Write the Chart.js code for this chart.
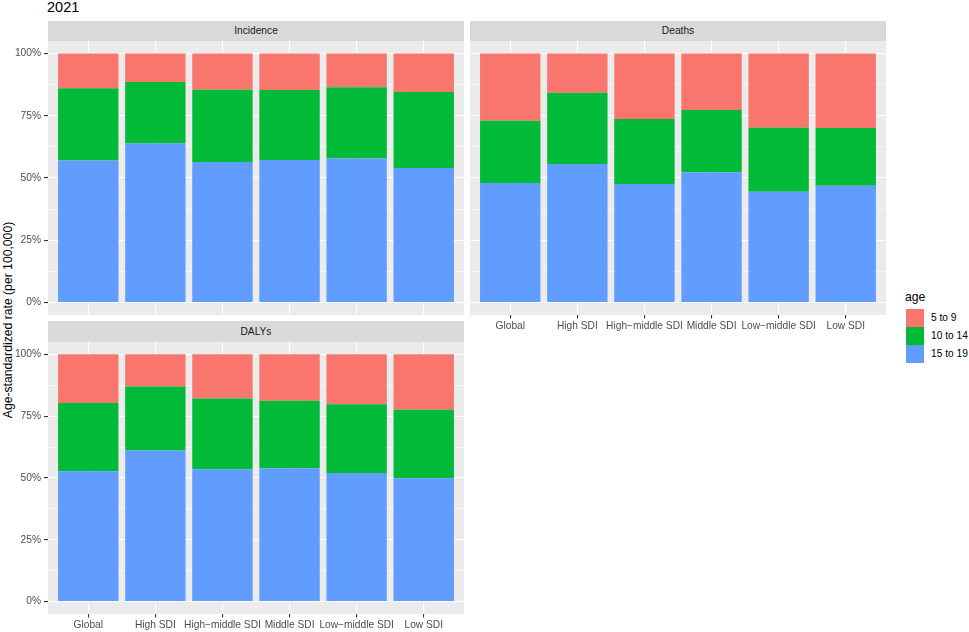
<!DOCTYPE html>
<html><head><meta charset="utf-8">
<script src="https://cdn.jsdelivr.net/npm/chart.js@4.4.1/dist/chart.umd.min.js"></script>
<style>
html,body{margin:0;padding:0;background:#fff;}
#wrap{position:relative;width:969px;height:632px;overflow:hidden;font-family:"Liberation Sans",Arial,sans-serif;background:#fff;}
.abs{position:absolute;white-space:nowrap;}
.strip{position:absolute;background:#D9D9D9;color:#1A1A1A;font-size:10.2px;text-align:center;}
canvas{position:absolute;}
.key{position:absolute;left:906px;width:18px;height:18px;}
.klab{position:absolute;left:931px;font-size:10.2px;line-height:12px;color:#000;}
</style></head><body>
<div id="wrap">
  <div class="abs" style="left:47px;top:0px;font-size:14.5px;line-height:15px;color:#000">2021</div>
  <div class="abs" style="left:7.5px;top:320px;font-size:12.2px;line-height:13px;color:#000;transform:translate(-50%,-50%) rotate(-90deg);">Age-standardized rate (per 100,000)</div>

  <div class="strip" id="s1" style="left:48px;top:21px;width:416px;height:20px;line-height:20px;"></div>
  <div class="strip" id="s2" style="left:470px;top:21px;width:416px;height:20px;line-height:20px;"></div>
  <div class="strip" id="s3" style="left:48px;top:321px;width:416px;height:21px;line-height:21px;"></div>

  <canvas id="c1" width="464" height="274" style="left:0px;top:41px;width:464px;height:274px;"></canvas>
  <canvas id="c2" width="416" height="292" style="left:470px;top:41px;width:416px;height:292px;"></canvas>
  <canvas id="c3" width="464" height="290" style="left:0px;top:342px;width:464px;height:290px;"></canvas>

  <div class="abs" style="left:905px;top:290px;font-size:12.2px;line-height:14px;color:#000">age</div>
  <div id="legend"></div>
</div>
<script>
// ---- data (share of age-standardized rate, %) ----
const categories = ["Global", "High SDI", "High\u2212middle SDI", "Middle SDI", "Low\u2212middle SDI", "Low SDI"];
const measures = ["Incidence", "Deaths", "DALYs"];
const ageGroups = ["5 to 9", "10 to 14", "15 to 19"];
const yTickValues = [0, 25, 50, 75, 100];

const incidence_15_19 = [57.0, 63.9, 56.4, 57.2, 57.8, 54.0];
const incidence_10_14 = [29.0, 24.6, 29.0, 28.1, 28.6, 30.5];
const incidence_5_9   = [14.0, 11.5, 14.6, 14.7, 13.6, 15.5];

const deaths_15_19 = [48.0, 55.6, 47.6, 52.3, 44.5, 46.9];
const deaths_10_14 = [25.0, 28.6, 26.1, 25.0, 25.7, 23.2];
const deaths_5_9   = [27.0, 15.8, 26.3, 22.7, 29.8, 29.9];

const dalys_15_19 = [52.7, 61.1, 53.5, 53.9, 52.0, 49.9];
const dalys_10_14 = [27.6, 25.9, 28.7, 27.3, 27.8, 27.7];
const dalys_5_9   = [19.7, 13.0, 17.8, 18.8, 20.2, 22.4];

// ---- styling ----
const colors = {"5 to 9": "#F8766D", "10 to 14": "#00BA38", "15 to 19": "#619CFF"};
const FONT = '"Liberation Sans", Arial, sans-serif';

document.getElementById('s1').textContent = measures[0];
document.getElementById('s2').textContent = measures[1];
document.getElementById('s3').textContent = measures[2];

// legend
const leg = document.getElementById('legend');
ageGroups.forEach((g, i) => {
  const k = document.createElement('div');
  k.className = 'key';
  k.style.top = (308.5 + i * 18.3) + 'px';
  k.style.background = colors[g];
  leg.appendChild(k);
  const l = document.createElement('div');
  l.className = 'klab';
  l.style.top = (311.5 + i * 18.3) + 'px';
  l.textContent = g;
  leg.appendChild(l);
});

const panelBg = {
  id: 'panelBg',
  beforeDraw(chart) {
    const {ctx, chartArea: a} = chart;
    ctx.save();
    ctx.fillStyle = '#EBEBEB';
    ctx.fillRect(a.left, a.top, a.right - a.left, a.bottom - a.top);
    ctx.restore();
  }
};

function toPoints(arr) { return arr.map((v, i) => ({x: i, y: v})); }
function noPad(s) { s.paddingTop = 0; s.paddingBottom = 0; s.paddingLeft = 0; s.paddingRight = 0; }

function makeChart(id, s1519, s1014, s59, showY, showX) {
  const yMinor = [0, 12.5, 25, 37.5, 50, 62.5, 75, 87.5, 100];
  return new Chart(document.getElementById(id), {
    type: 'bar',
    data: {
      datasets: [
        {label: ageGroups[2], data: toPoints(s1519), backgroundColor: colors[ageGroups[2]]},
        {label: ageGroups[1], data: toPoints(s1014), backgroundColor: colors[ageGroups[1]]},
        {label: ageGroups[0], data: toPoints(s59), backgroundColor: colors[ageGroups[0]]}
      ]
    },
    options: {
      responsive: false,
      animation: false,
      devicePixelRatio: 1,
      layout: {padding: 0},
      datasets: {bar: {barPercentage: 0.9, categoryPercentage: 1.0, borderWidth: 0}},
      plugins: {legend: {display: false}, tooltip: {enabled: false}},
      scales: {
        x: {
          type: 'linear', stacked: true, min: -0.6, max: 5.6, bounds: 'data', offset: false,
          afterBuildTicks: s => { s.ticks = categories.map((c, i) => ({value: i})); },
          afterFit: s => { s.height = showX ? 18 : 0; noPad(s); },
          border: {display: false},
          grid: {offset: false, color: '#FFFFFF', lineWidth: 1.1, drawTicks: showX, tickLength: 3.5, tickColor: '#333333', tickWidth: 1.1},
          ticks: {display: showX, autoSkip: false, maxRotation: 0, minRotation: 0, padding: 2,
                  color: '#4D4D4D', font: {family: FONT, size: 10.2},
                  callback: v => categories[v]}
        },
        y: {
          type: 'linear', stacked: true, min: -5, max: 105, bounds: 'data', offset: false,
          afterBuildTicks: s => { s.ticks = yMinor.map(v => ({value: v})); },
          afterFit: s => { s.width = showY ? 48 : 0; noPad(s); },
          border: {display: false},
          grid: {
            offset: false,
            color: '#FFFFFF',
            lineWidth: ctx => (ctx.tick && yTickValues.includes(ctx.tick.value)) ? 1.1 : 0.55,
            drawTicks: showY, tickLength: 4, tickWidth: 1.1,
            tickColor: ctx => (ctx.tick && yTickValues.includes(ctx.tick.value)) ? '#333333' : 'rgba(0,0,0,0)'
          },
          ticks: {display: showY, autoSkip: false, padding: 3, color: '#4D4D4D', font: {family: FONT, size: 10.2},
                  callback: v => yTickValues.includes(v) ? v + '%' : ''}
        }
      }
    },
    plugins: [panelBg]
  });
}

makeChart('c1', incidence_15_19, incidence_10_14, incidence_5_9, true, false);
makeChart('c2', deaths_15_19, deaths_10_14, deaths_5_9, false, true);
makeChart('c3', dalys_15_19, dalys_10_14, dalys_5_9, true, true);
</script>
</body></html>
